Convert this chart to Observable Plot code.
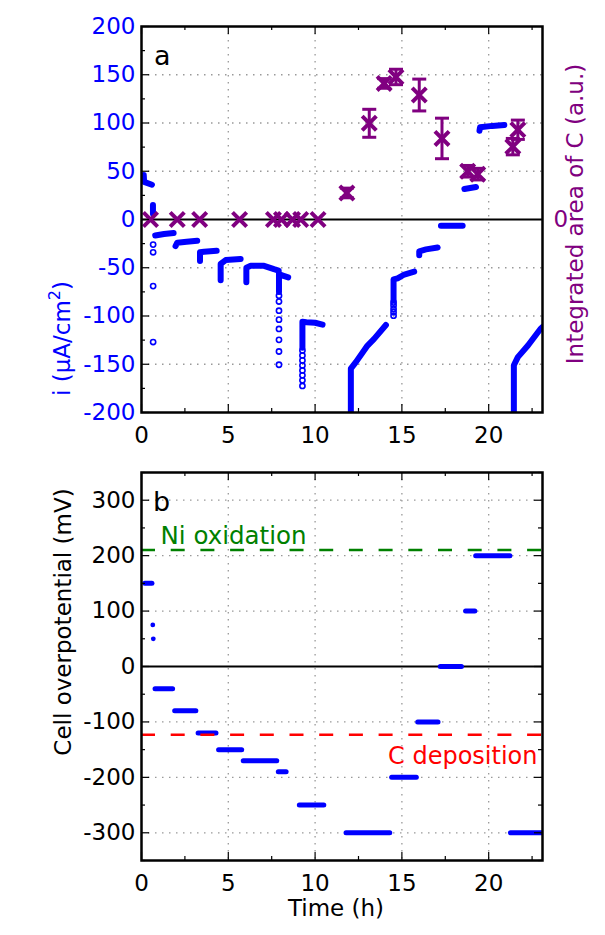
<!DOCTYPE html>
<html><head><meta charset="utf-8">
<script src="https://cdn.jsdelivr.net/npm/d3@7"></script>
<script src="https://cdn.jsdelivr.net/npm/@observablehq/plot@0.6"></script>
<style>
body{margin:0;background:#fff;width:605px;height:935px;overflow:hidden;font-family:"DejaVu Sans",sans-serif}
#chart svg{display:block}
</style></head><body><div id="chart"></div>
<script>
// ---------------- data ----------------
const timeTicks = [0, 5, 10, 15, 20];
const timeMinor = [2.5, 7.5, 12.5, 17.5, 22.5];
const curTicks = [-200, -150, -100, -50, 0, 50, 100, 150, 200];
const curMinor = [-175, -125, -75, -25, 25, 75, 125, 175];
const potTicks = [-300, -200, -100, 0, 100, 200, 300];
const potMinor = [-350, -250, -150, -50, 50, 150, 250, 350];

// current density (h, µA/cm²): dense runs of measured points
const run1 = [[0.13, 46], [0.15, 39], [0.6, 36]];
const run2 = [[0.66, 15], [0.66, 6]];
const run3 = [[0.79, -16.5], [1.3, -15], [1.85, -14]];
const run4 = [[1.96, -27.5], [2.06, -24], [2.6, -23], [3.21, -22]];
const run5 = [[3.37, -43], [3.37, -34], [3.6, -33.5], [4.33, -32.5]];
const run6 = [[4.56, -63], [4.56, -46], [4.85, -42], [5.71, -41]];
const run7 = [[6.04, -65], [6.04, -50], [6.29, -48], [7.06, -48], [7.63, -51.5], [7.9, -53]];
const run8 = [[7.92, -75], [7.92, -56], [8.1, -58], [8.45, -60]];
const run9 = [[9.27, -133], [9.27, -106], [9.5, -106.5], [10.0, -107], [10.43, -109]];
const run10 = [[12.06, -215], [12.06, -154.6], [12.35, -147.8], [13.02, -130.6], [13.4, -123.7], [14.08, -109.3]];
const run11 = [[14.52, -84], [14.52, -62], [14.75, -61], [15.14, -57], [15.71, -54]];
const run12 = [[16.0, -37], [16.0, -33], [16.39, -31], [17.06, -29]];
const run13 = [[17.25, -6.5], [18.5, -6.5]];
const run14 = [[18.6, 31.6], [19.27, 33.7]];
const run15 = [[19.47, 92], [19.5, 95.5], [20.2, 97], [20.9, 98]];
const run16 = [[21.45, -215], [21.45, -151], [21.68, -142.6], [22.26, -130.6], [22.98, -113.4], [23.1, -111.5]];
const runs = [run1, run2, run3, run4, run5, run6, run7, run8, run9, run10, run11, run12, run13, run14, run15, run16];

// current density: isolated points (open circles)
const sparseT = [0.67, 0.67, 0.67, 0.67,
  7.92, 7.92, 7.92, 7.92, 7.92, 7.92, 7.92, 7.92,
  9.27, 9.27, 9.27, 9.27, 9.27, 9.27, 9.27, 9.27,
  14.52, 14.52, 14.52, 14.52, 14.52];
const sparseI = [-26, -34, -69, -127,
  -79, -85, -94.5, -103.8, -113.4, -124.7, -136.8, -150.5,
  -135.7, -140.9, -146, -151.2, -156.4, -161.5, -166.7, -172.5,
  -86, -89, -92.8, -96, -99.7];

// integrated area of C (a.u., plotted on the shared zero)
const areaT = [0.52, 2.06, 3.35, 5.65, 7.6, 8.06, 8.7, 9.17, 10.17, 11.83, 13.12, 13.98, 14.66, 16.0, 17.31, 18.79, 19.37, 21.39, 21.68];
const areaV = [0, 0, 0, 0, 0, 0, 0, 0, 0, 27.5, 99.7, 141, 147.7, 129, 84, 50, 47, 75.5, 93];
const areaErr = [0, 0, 0, 0, 0, 0, 0, 0, 0, 5, 14.5, 5, 8, 16.5, 21, 6, 6, 8.5, 10];

// cell overpotential steps (h, mV)
const stepStart = [0.22, 0.81, 1.94, 3.29, 4.47, 5.89, 7.91, 9.12, 11.81, 14.44, 15.94, 17.24, 18.70, 19.28, 21.28];
const stepEnd   = [0.63, 1.82, 3.16, 4.32, 5.80, 7.82, 8.36, 10.53, 14.33, 15.86, 17.11, 18.46, 19.23, 21.25, 23.3];
const stepV     = [150, -40, -80, -120, -150, -170, -190, -250, -300, -200, -100, 0, 100, 200, -300];
const singleT = [0.65, 0.68];
const singleV = [75, 50];

const niLevel = 210;
const cLevel = -123;

// ---------------- build ----------------
const BLUE = "#0000ff", PURPLE = "#800080", GREEN = "#008000", RED = "#ff0000";
const FONT = "DejaVu Sans";
const W = 605, ML = 141, MR = 63;
const PW = W - ML - MR;
const xDomain = [0, 23.1];

const runData = runs.flatMap((r, k) => r.map(([t, i]) => ({t, i, k})));
const sparse = sparseT.map((t, j) => ({t, i: sparseI[j]}));
const area = areaT.map((t, j) => ({t, v: areaV[j], e: areaErr[j]}));
const areaE = area.filter(d => d.e > 0);
const steps = stepV.map((v, j) => ({a: stepStart[j], b: stepEnd[j], v}));
const singles = singleT.map((t, j) => ({t, v: singleV[j]}));

const capSymbol = {draw(ctx, size) { const r = Math.sqrt(size / Math.PI); ctx.moveTo(-r, 0); ctx.lineTo(r, 0); }};
const fmt = d => String(d);
const gridStyle = {stroke: "#999", strokeOpacity: 1, strokeWidth: 1.3, strokeDasharray: "1.5,5.5"};

function tickMarksX(PH, major, minor) {
  return [
    Plot.tickX(major, {x: d => d, insetTop: PH - 8, stroke: "black", strokeWidth: 1.2}),
    Plot.tickX(minor, {x: d => d, insetTop: PH - 4, stroke: "black", strokeWidth: 1.2}),
    Plot.tickX(major, {x: d => d, insetBottom: PH - 8, stroke: "black", strokeWidth: 1.2}),
    Plot.tickX(minor, {x: d => d, insetBottom: PH - 4, stroke: "black", strokeWidth: 1.2})
  ];
}
function tickMarksY(major, minor, right) {
  const m = [
    Plot.tickY(major, {y: d => d, insetRight: PW - 8, stroke: "black", strokeWidth: 1.2}),
    Plot.tickY(minor, {y: d => d, insetRight: PW - 4, stroke: "black", strokeWidth: 1.2})
  ];
  if (right) m.push(
    Plot.tickY(major, {y: d => d, insetLeft: PW - 8, stroke: "black", strokeWidth: 1.2}),
    Plot.tickY(minor, {y: d => d, insetLeft: PW - 4, stroke: "black", strokeWidth: 1.2})
  );
  return m;
}

// ---- top panel ----
const H1 = 460, MT1 = 26, MB1 = 48, PH1 = H1 - MT1 - MB1;
const plotTop = Plot.plot({
  width: W, height: H1, marginTop: MT1, marginBottom: MB1, marginLeft: ML, marginRight: MR,
  style: {fontFamily: FONT, fontSize: "23px", background: "white", overflow: "visible"},
  x: {domain: xDomain, axis: null},
  y: {domain: [-200, 200], axis: null},
  marks: [
    Plot.gridX({ticks: timeTicks.slice(1), ...gridStyle}),
    Plot.gridY({ticks: curTicks.filter(d => d !== 0 && Math.abs(d) !== 200), ...gridStyle}),
    Plot.ruleY([0], {stroke: "black", strokeWidth: 2}),
    Plot.line(runData, {x: "t", y: "i", z: "k", stroke: BLUE, strokeWidth: 6, strokeLinecap: "round", strokeLinejoin: "round", clip: true}),
    Plot.dot(sparse, {x: "t", y: "i", r: 2.6, stroke: BLUE, strokeWidth: 1.6, fill: "none"}),
    Plot.ruleX(areaE, {x: "t", y1: d => d.v - d.e, y2: d => d.v + d.e, stroke: PURPLE, strokeWidth: 3}),
    Plot.dot(areaE, {x: "t", y: d => d.v - d.e, symbol: capSymbol, r: 7, stroke: PURPLE, strokeWidth: 3, fill: "none"}),
    Plot.dot(areaE, {x: "t", y: d => d.v + d.e, symbol: capSymbol, r: 7, stroke: PURPLE, strokeWidth: 3, fill: "none"}),
    Plot.dot(area, {x: "t", y: "v", symbol: "times", r: 6.5, stroke: PURPLE, strokeWidth: 4}),
    ...tickMarksX(PH1, timeTicks, timeMinor),
    ...tickMarksY(curTicks, curMinor, false),
    Plot.frame({stroke: "black", strokeWidth: 2.5}),
    Plot.axisX({ticks: timeTicks, tickFormat: fmt, tickSize: 0, tickPadding: 14, fontSize: 23, label: null, anchor: "bottom"}),
    Plot.axisY({ticks: curTicks, tickFormat: fmt, tickSize: 0, tickPadding: 6, fontSize: 23, label: null, anchor: "left", color: BLUE, fill: BLUE}),
    Plot.axisY({ticks: [0], tickFormat: fmt, tickSize: 0, tickPadding: 11, fontSize: 23, label: null, anchor: "right", color: PURPLE, fill: PURPLE}),
    Plot.text(["a"], {frameAnchor: "top-left", dx: 12.5, dy: 19, fontSize: 27, textAnchor: "start", lineAnchor: "top"})
  ]
});

// ---- bottom panel ----
const H2 = 475, MT2 = 12, MB2 = 75, PH2 = H2 - MT2 - MB2;
const plotBottom = Plot.plot({
  width: W, height: H2, marginTop: MT2, marginBottom: MB2, marginLeft: ML, marginRight: MR,
  style: {fontFamily: FONT, fontSize: "23px", background: "white", overflow: "visible"},
  x: {domain: xDomain, axis: null},
  y: {domain: [-350, 350], axis: null},
  marks: [
    Plot.gridX({ticks: timeTicks.slice(1), ...gridStyle}),
    Plot.gridY({ticks: potTicks.filter(d => d !== 0), ...gridStyle}),
    Plot.ruleY([0], {stroke: "black", strokeWidth: 2}),
    Plot.ruleY(steps, {y: "v", x1: "a", x2: "b", stroke: BLUE, strokeWidth: 5, strokeLinecap: "round", clip: true}),
    Plot.dot(singles, {x: "t", y: "v", r: 2.4, fill: BLUE}),
    Plot.ruleY([niLevel], {stroke: GREEN, strokeWidth: 2.5, strokeDasharray: "14,15.7"}),
    Plot.ruleY([cLevel], {stroke: RED, strokeWidth: 2.5, strokeDasharray: "14,15.7"}),
    Plot.text(["Ni oxidation"], {y: () => niLevel, frameAnchor: "left", dx: 19, dy: -6, textAnchor: "start", lineAnchor: "bottom", fill: GREEN, fontSize: 24.5}),
    Plot.text(["C deposition"], {y: () => cLevel, frameAnchor: "right", dx: -5, dy: 29, textAnchor: "end", lineAnchor: "bottom", fill: RED, fontSize: 24}),
    ...tickMarksX(PH2, timeTicks, timeMinor),
    ...tickMarksY(potTicks, potMinor, true),
    Plot.frame({stroke: "black", strokeWidth: 2.5}),
    Plot.axisX({ticks: timeTicks, tickFormat: fmt, tickSize: 0, tickPadding: 14, fontSize: 23, label: null, anchor: "bottom"}),
    Plot.axisY({ticks: potTicks, tickFormat: fmt, tickSize: 0, tickPadding: 6, fontSize: 23, label: null, anchor: "left"}),
    Plot.text(["b"], {frameAnchor: "top-left", dx: 11.5, dy: 19.5, fontSize: 27, textAnchor: "start", lineAnchor: "top"}),
    Plot.text(["Time (h)"], {frameAnchor: "bottom", dx: -6, dy: 55, fontSize: 23, lineAnchor: "bottom"})
  ]
});

const root = document.getElementById("chart");
const asSvg = el => el.tagName.toLowerCase() === "svg" ? el : el.querySelector("svg");
root.appendChild(plotTop);
root.appendChild(plotBottom);

// rotated axis titles
const sTop = d3.select(asSvg(plotTop));
const lt = sTop.append("text").attr("transform", "translate(70,396) rotate(-90)")
  .attr("fill", BLUE).attr("font-size", 23).attr("font-family", FONT).attr("text-anchor", "start");
lt.append("tspan").text("i (μA/cm");
lt.append("tspan").attr("dy", -10).attr("font-size", 16).text("2");
lt.append("tspan").attr("dy", 10).text(")");
sTop.append("text").attr("transform", "translate(583,214) rotate(-90)")
  .attr("fill", PURPLE).attr("font-size", 23).attr("font-family", FONT).attr("text-anchor", "middle")
  .text("Integrated area of C (a.u.)");
const sBot = d3.select(asSvg(plotBottom));
sBot.append("text").attr("transform", `translate(71,${622 - H1}) rotate(-90)`)
  .attr("fill", "black").attr("font-size", 23).attr("font-family", FONT).attr("text-anchor", "middle")
  .text("Cell overpotential (mV)");
</script>
</body></html>
